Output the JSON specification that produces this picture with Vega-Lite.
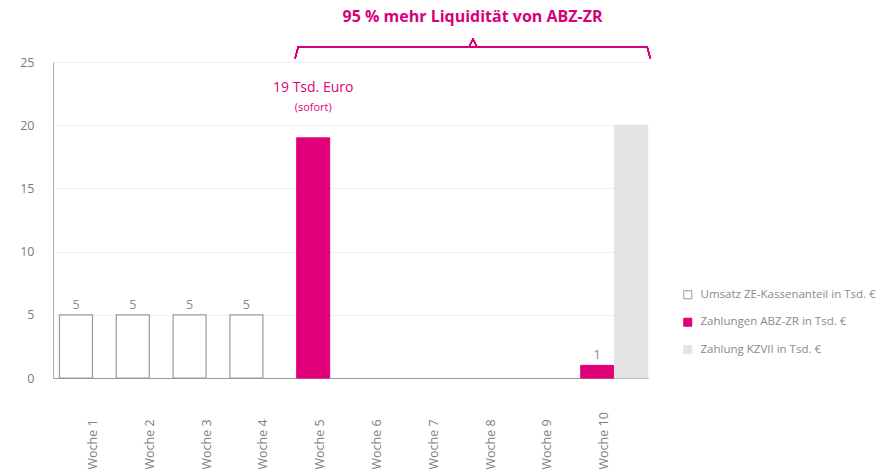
{
  "$schema": "https://vega.github.io/schema/vega-lite/v6.json",
  "width": 595,
  "height": 316,
  "autosize": {"type": "none"},
  "padding": {"left": 53, "top": 62, "right": 242, "bottom": 96},
  "background": "white",
  "config": {"font": "Open Sans", "view": {"stroke": null}},
  "title": {"text": "95 % mehr Liquidität von ABZ-ZR", "color": "#d8007a", "fontSize": 16, "fontWeight": "bold", "anchor": "middle", "dx": 122, "offset": 13, "font": "Open Sans"},
  "datasets": {
    "bars": [
      {"week": "Woche 1", "series": "Umsatz ZE-Kassenanteil in Tsd. €", "key": "U", "value": 5},
      {"week": "Woche 2", "series": "Umsatz ZE-Kassenanteil in Tsd. €", "key": "U", "value": 5},
      {"week": "Woche 3", "series": "Umsatz ZE-Kassenanteil in Tsd. €", "key": "U", "value": 5},
      {"week": "Woche 4", "series": "Umsatz ZE-Kassenanteil in Tsd. €", "key": "U", "value": 5},
      {"week": "Woche 5", "series": "Zahlungen ABZ-ZR in Tsd. €", "key": "Z", "value": 19, "label": "19 Tsd. Euro", "note": "(sofort)"},
      {"week": "Woche 10", "series": "Zahlungen ABZ-ZR in Tsd. €", "key": "Z", "value": 1},
      {"week": "Woche 10", "series": "Zahlung KZVII in Tsd. €", "key": "K", "value": 20}
    ]
  },
  "data": {"name": "bars"},
  "layer": [
    {
      "transform": [{"filter": {"field": "key", "equal": "U"}}],
      "mark": {"type": "bar", "xOffset": -12, "strokeWidth": 1.2},
      "encoding": {
        "x": {"field": "week", "type": "nominal", "sort": null,
          "scale": {"domain": ["Woche 1", "Woche 2", "Woche 3", "Woche 4", "Woche 5", "Woche 6", "Woche 7", "Woche 8", "Woche 9", "Woche 10"], "paddingInner": 0.419, "paddingOuter": 0.447, "align": 0.364},
          "axis": {"title": null, "labelAngle": -90, "labelAlign": "left", "labelBaseline": "middle", "ticks": false, "labelPadding": 91, "labelOffset": 5, "labelFontSize": 12.5, "labelColor": "#808080", "domainColor": "#9a9a9a", "domainWidth": 1.2, "grid": false}},
        "y": {"field": "value", "type": "quantitative",
          "scale": {"domain": [0, 25], "nice": false},
          "axis": {"title": null, "values": [0, 5, 10, 15, 20, 25], "ticks": false, "labelPadding": 19, "labelFontSize": 12.5, "labelColor": "#7a7a7a", "domainColor": "#b0b0b0", "grid": true, "gridColor": "#efefef"}},
        "fill": {"field": "series", "type": "nominal",
          "scale": {"domain": ["Umsatz ZE-Kassenanteil in Tsd. €", "Zahlungen ABZ-ZR in Tsd. €", "Zahlung KZVII in Tsd. €"], "range": ["#ffffff", "#e2007a", "#e3e3e3"]},
          "legend": {"title": null, "orient": "none", "legendX": 629, "legendY": 227, "symbolType": "square", "symbolSize": 64, "symbolStrokeWidth": 1, "labelFontSize": 11.5, "labelLimit": 300, "labelColor": "#8a8a8a", "rowPadding": 14.5, "labelOffset": 7}},
        "stroke": {"field": "series", "type": "nominal",
          "scale": {"domain": ["Umsatz ZE-Kassenanteil in Tsd. €", "Zahlungen ABZ-ZR in Tsd. €", "Zahlung KZVII in Tsd. €"], "range": ["#9a9a9a", "#e2007a", "#e3e3e3"]},
          "legend": {"title": null, "orient": "none", "legendX": 629, "legendY": 227, "symbolType": "square", "symbolSize": 64, "symbolStrokeWidth": 1, "labelFontSize": 11.5, "labelLimit": 300, "labelColor": "#8a8a8a", "rowPadding": 14.5, "labelOffset": 7}}
      }
    },
    {
      "transform": [{"filter": {"field": "key", "equal": "Z"}}],
      "mark": {"type": "bar", "xOffset": -2},
      "encoding": {
        "x": {"field": "week", "type": "nominal", "sort": null},
        "y": {"field": "value", "type": "quantitative"},
        "fill": {"field": "series", "type": "nominal"},
        "stroke": {"field": "series", "type": "nominal"}
      }
    },
    {
      "transform": [{"filter": {"field": "key", "equal": "K"}}],
      "mark": {"type": "bar", "xOffset": 32},
      "encoding": {
        "x": {"field": "week", "type": "nominal", "sort": null},
        "y": {"field": "value", "type": "quantitative"},
        "fill": {"field": "series", "type": "nominal"},
        "stroke": {"field": "series", "type": "nominal"}
      }
    },
    {
      "transform": [{"filter": {"field": "key", "equal": "U"}}],
      "mark": {"type": "text", "xOffset": -12, "dy": -3, "baseline": "bottom", "fontSize": 12.5, "color": "#8a8a8a"},
      "encoding": {
        "x": {"field": "week", "type": "nominal", "sort": null},
        "y": {"field": "value", "type": "quantitative"},
        "text": {"field": "value", "type": "quantitative"}
      }
    },
    {
      "transform": [{"filter": {"and": [{"field": "key", "equal": "Z"}, {"field": "week", "equal": "Woche 10"}]}}],
      "mark": {"type": "text", "xOffset": -2, "dy": -3, "baseline": "bottom", "fontSize": 12.5, "color": "#8a8a8a"},
      "encoding": {
        "x": {"field": "week", "type": "nominal", "sort": null},
        "y": {"field": "value", "type": "quantitative"},
        "text": {"field": "value", "type": "quantitative"}
      }
    },
    {
      "transform": [{"filter": {"field": "week", "equal": "Woche 5"}}],
      "mark": {"type": "text", "xOffset": -2, "dy": -50, "baseline": "middle", "fontSize": 14, "color": "#e2007a"},
      "encoding": {
        "x": {"field": "week", "type": "nominal", "sort": null},
        "y": {"field": "value", "type": "quantitative"},
        "text": {"field": "label", "type": "nominal"}
      }
    },
    {
      "transform": [{"filter": {"field": "week", "equal": "Woche 5"}}],
      "mark": {"type": "text", "xOffset": -2, "dy": -30, "baseline": "middle", "fontSize": 11, "color": "#e2007a"},
      "encoding": {
        "x": {"field": "week", "type": "nominal", "sort": null},
        "y": {"field": "value", "type": "quantitative"},
        "text": {"field": "note", "type": "nominal"}
      }
    },
    {
      "mark": {"type": "rule", "xOffset": -20, "x2Offset": -17, "color": "#d8007a", "strokeWidth": 1.3, "strokeCap": "round"},
      "encoding": {"x": {"datum": "Woche 5"}, "x2": {"datum": "Woche 5"}, "y": {"datum": 25.32}, "y2": {"datum": 26.19}}
    },
    {
      "mark": {"type": "rule", "xOffset": -17, "x2Offset": 48, "color": "#d8007a", "strokeWidth": 1.3, "strokeCap": "round"},
      "encoding": {"x": {"datum": "Woche 5"}, "x2": {"datum": "Woche 10"}, "y": {"datum": 26.19}}
    },
    {
      "mark": {"type": "rule", "xOffset": 48, "x2Offset": 51, "color": "#d8007a", "strokeWidth": 1.3, "strokeCap": "round"},
      "encoding": {"x": {"datum": "Woche 10"}, "x2": {"datum": "Woche 10"}, "y": {"datum": 26.19}, "y2": {"datum": 25.32}}
    },
    {
      "mark": {"type": "rule", "xOffset": -16.6, "x2Offset": -12.6, "color": "#d8007a", "strokeWidth": 1.3, "strokeCap": "round"},
      "encoding": {"x": {"datum": "Woche 8"}, "x2": {"datum": "Woche 8"}, "y": {"datum": 26.19}, "y2": {"datum": 26.82}}
    },
    {
      "mark": {"type": "rule", "xOffset": -12.6, "x2Offset": -8.6, "color": "#d8007a", "strokeWidth": 1.3, "strokeCap": "round"},
      "encoding": {"x": {"datum": "Woche 8"}, "x2": {"datum": "Woche 8"}, "y": {"datum": 26.82}, "y2": {"datum": 26.19}}
    }
  ]
}
